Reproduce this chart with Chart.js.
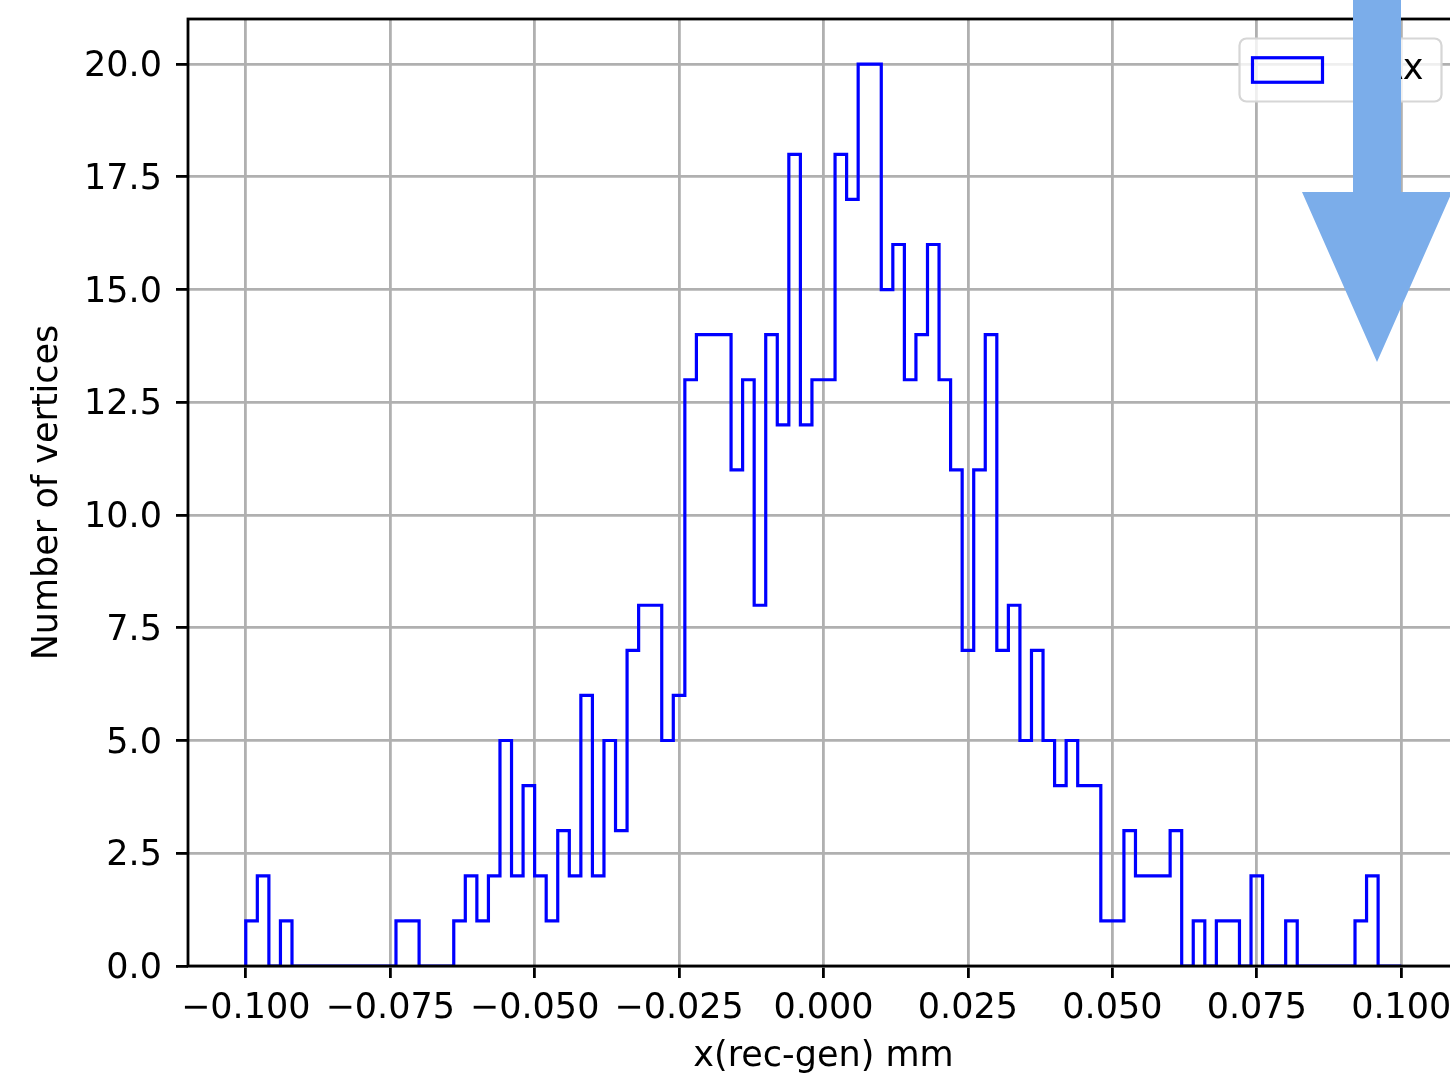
<!DOCTYPE html>
<html>
<head>
<meta charset="utf-8">
<script src="https://cdn.jsdelivr.net/npm/chart.js@4/dist/chart.umd.min.js"></script>
<style>
  html, body { margin: 0; padding: 0; overflow: hidden; background: #fff; }
  #wrap { position: relative; width: 1460px; height: 1075px; }
</style>
</head>
<body>
<div id="wrap"><canvas id="c"></canvas></div>
<script>
// Histogram of reconstructed minus generated vertex x position, 100 bins over [-0.1, 0.1] mm
const BIN_RANGE = [-0.1, 0.1];
const COUNTS = [
  1, 2, 0, 1, 0, 0, 0, 0, 0, 0,
  0, 0, 0, 1, 1, 0, 0, 0, 1, 2,
  1, 2, 5, 2, 4, 2, 1, 3, 2, 6,
  2, 5, 3, 7, 8, 8, 5, 6, 13, 14,
  14, 14, 11, 13, 8, 14, 12, 18, 12, 13,
  13, 18, 17, 20, 20, 15, 16, 13, 14, 16,
  13, 11, 7, 11, 14, 7, 8, 5, 7, 5,
  4, 5, 4, 4, 1, 1, 3, 2, 2, 2,
  3, 0, 1, 0, 1, 1, 0, 2, 0, 0,
  1, 0, 0, 0, 0, 0, 1, 2, 0, 0
];
const X_TICKS = [-0.1, -0.075, -0.05, -0.025, 0, 0.025, 0.05, 0.075, 0.1];
const Y_TICKS = [0, 2.5, 5, 7.5, 10, 12.5, 15, 17.5, 20];
const X_LIMITS = [-0.11, 0.11];
const Y_LIMITS = [0, 21];
const SERIES_LABEL = 'Δx';
const X_TITLE = 'x(rec-gen) mm';
const Y_TITLE = 'Number of vertices';

// Bin edges and the step outline (histtype "step") built from the counts
const nBins = COUNTS.length;
const binWidth = (BIN_RANGE[1] - BIN_RANGE[0]) / nBins;
const edges = [];
for (let i = 0; i <= nBins; i++) edges.push(BIN_RANGE[0] + i * binWidth);
const outline = [{ x: edges[0], y: 0 }];
COUNTS.forEach((c, i) => {
  outline.push({ x: edges[i], y: c }, { x: edges[i + 1], y: c });
});
outline.push({ x: edges[nBins], y: 0 });

const FONT = { family: "'DejaVu Sans', sans-serif", size: 35 };
const LW = 2.8;
const GRID = { color: '#b0b0b0', lineWidth: LW, tickColor: '#000', tickLength: 12, tickWidth: LW };

// Axes frame drawn on all four sides
const framePlugin = {
  id: 'frame',
  afterDatasetsDraw(chart) {
    const { ctx, chartArea: a } = chart;
    ctx.save();
    ctx.strokeStyle = '#000';
    ctx.lineWidth = LW;
    ctx.strokeRect(a.left, a.top, a.right - a.left, a.bottom - a.top);
    ctx.restore();
  }
};

// Legend box in the upper right corner of the axes
const legendPlugin = {
  id: 'boxLegend',
  afterDraw(chart) {
    const { ctx, chartArea: a } = chart;
    const ds = chart.data.datasets[0];
    const fs = FONT.size;
    const right = a.right - 0.5 * fs;
    const top = a.top + 0.5 * fs + 2;
    const w = 202, h = 63, r = 7;
    const left = right - w;
    ctx.save();
    ctx.beginPath();
    ctx.roundRect(left, top, w, h, r);
    ctx.fillStyle = 'rgba(255,255,255,0.8)';
    ctx.fill();
    ctx.strokeStyle = '#d6d6d6';
    ctx.lineWidth = 2.2;
    ctx.stroke();
    // handle
    const hx = left + 0.4 * fs - 1, hy = top + (h - 0.7 * fs) / 2;
    ctx.strokeStyle = ds.borderColor;
    ctx.lineWidth = ds.borderWidth;
    ctx.strokeRect(hx, hy, 2 * fs, 0.7 * fs);
    // label
    ctx.font = `${fs}px ${FONT.family}`;
    ctx.fillStyle = '#000';
    ctx.textBaseline = 'middle';
    ctx.textAlign = 'right';
    ctx.fillText(ds.label, right - 0.4 * fs - 4, top + h / 2);
    ctx.restore();
  }
};

// Downward pointer drawn over the top right of the figure
const ARROW = { shaftL: 1353, shaftR: 1401, shaftTop: -2, headY: 192, headL: 1302, headR: 1452, tipX: 1377, tipY: 362, color: '#7badea' };
const arrowPlugin = {
  id: 'pointer',
  afterDraw(chart) {
    const { ctx } = chart;
    const p = ARROW;
    ctx.save();
    ctx.fillStyle = p.color;
    ctx.beginPath();
    ctx.moveTo(p.shaftL, p.shaftTop);
    ctx.lineTo(p.shaftR, p.shaftTop);
    ctx.lineTo(p.shaftR, p.headY);
    ctx.lineTo(p.headR, p.headY);
    ctx.lineTo(p.tipX, p.tipY);
    ctx.lineTo(p.headL, p.headY);
    ctx.lineTo(p.shaftL, p.headY);
    ctx.closePath();
    ctx.fill();
    ctx.restore();
  }
};

new Chart(document.getElementById('c'), {
  type: 'line',
  data: {
    datasets: [{
      label: SERIES_LABEL,
      data: outline,
      borderColor: '#0000ff',
      borderWidth: 3.2,
      borderJoinStyle: 'miter',
      borderCapStyle: 'butt',
      pointRadius: 0,
      fill: false,
      tension: 0
    }]
  },
  options: {
    responsive: true,
    maintainAspectRatio: false,
    devicePixelRatio: 1,
    animation: false,
    events: [],
    layout: { padding: { top: 19, right: 1, left: 0, bottom: 0 } },
    plugins: { legend: { display: false }, tooltip: { enabled: false } },
    scales: {
      x: {
        type: 'linear',
        min: X_LIMITS[0],
        max: X_LIMITS[1],
        afterBuildTicks: s => { s.ticks = X_TICKS.map(v => ({ value: v })); },
        afterFit: s => { s.height = 109; s.paddingLeft = 0; s.paddingRight = 0; },
        ticks: {
          font: FONT, color: '#000', padding: 10, maxRotation: 0, autoSkip: false,
          callback: v => v.toFixed(3).replace('-', '\u2212')
        },
        grid: GRID,
        border: { display: false },
        title: { display: true, text: X_TITLE, font: FONT, color: '#000', padding: { top: 0, bottom: -3 } }
      },
      y: {
        type: 'linear',
        min: Y_LIMITS[0],
        max: Y_LIMITS[1],
        afterBuildTicks: s => { s.ticks = Y_TICKS.map(v => ({ value: v })); },
        afterFit: s => { s.width = 188; s.paddingTop = 0; s.paddingBottom = 0; },
        ticks: {
          font: FONT, color: '#000', padding: 14, autoSkip: false, labelOffset: 3,
          callback: v => v.toFixed(1)
        },
        grid: GRID,
        border: { display: false },
        title: { display: true, text: Y_TITLE, font: FONT, color: '#000', padding: { top: 27, bottom: 0 } }
      }
    }
  },
  plugins: [framePlugin, legendPlugin, arrowPlugin]
});
</script>
</body>
</html>
